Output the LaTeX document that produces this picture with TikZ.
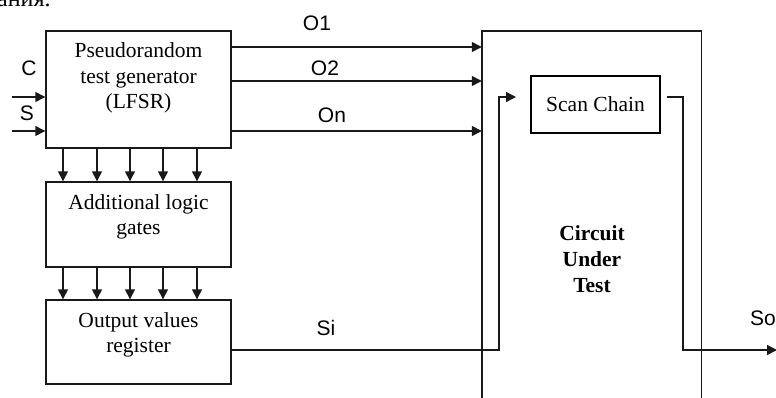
\documentclass[tikz,border=0pt]{standalone}
\usepackage{fontspec}
\setmainfont{Liberation Serif}
\newfontfamily\sansf{Liberation Sans}
\usetikzlibrary{arrows.meta}
\begin{document}
\begin{tikzpicture}[x=1pt,y=-1pt,
  wire/.style={line width=1.4pt,draw=black!90},
  arr/.style={wire,-{Triangle[length=10pt,width=10pt]}},
  blk/.style={draw=black!90,line width=1.4pt,minimum width=185pt,inner sep=0pt},
  btxt/.style={font=\fontsize{21.5}{25.5}\selectfont,align=center,inner sep=0pt},
  lbl/.style={font=\sansf\fontsize{21}{24}\selectfont,inner sep=0pt}]
\useasboundingbox (0,0) rectangle (776,397);
% clipped text at the top edge
\node[anchor=base west,inner sep=0pt,font=\fontsize{24}{28}\selectfont] (topt) at (-3,6) {ания.};
% blocks
\node[blk,minimum height=117pt] (lfsr) at (138.5,89.5) {};
\node[blk,minimum height=85pt] (add) at (138.5,224.5) {};
\node[blk,minimum height=84pt] (outr) at (138.5,342) {};
\node[btxt] (lfsrt) at (138.5,78) {Pseudorandom\\test generator\\(LFSR)};
\node[btxt] (addt) at (138.5,217) {Additional logic\\gates};
\node[btxt] (outt) at (138.5,335) {Output values\\register};
% circuit under test (open at the bottom)
\node[minimum width=219pt,minimum height=380pt,inner sep=0pt] (cut) at (591.5,221) {};
\draw[wire] (cut.south west) -- (cut.north west) -- (cut.north east) -- (cut.south east);
\node[btxt,font=\bfseries\fontsize{21.5}{26}\selectfont] (cutt) at (592,259) {Circuit\\Under\\Test};
\node[draw=black,line width=2.8pt,minimum width=129pt,minimum height=57pt,inner sep=0pt,
  font=\fontsize{21.5}{25}\selectfont] (scan) at (595.5,104.5) {Scan Chain};
% inputs C and S
\coordinate (cin) at (12,97);
\coordinate (sin) at (12,131);
\draw[arr] (cin) -- (lfsr.west |- cin);
\draw[arr] (sin) -- (lfsr.west |- sin);
\node[lbl] (cl) at (29,68) {C};
\node[lbl] (sl) at (27,113) {S};
% outputs O1, O2, On
\foreach \yy in {47,81,131}{
  \draw[arr] (lfsr.east |- 0,\yy) -- (cut.west |- 0,\yy);
}
\node[lbl] (o1) at (317,23) {O1};
\node[lbl] (o2) at (325,68) {O2};
\node[lbl] (on) at (332,115) {On};
% vertical bus arrows
\foreach \xx in {63,97,130,163,197}{
  \draw[arr] (lfsr.south -| \xx,0) -- (add.north -| \xx,0);
  \draw[arr] (add.south -| \xx,0) -- (outr.north -| \xx,0);
}
% Si path into scan chain
\coordinate (scin) at (516,97);
\draw[arr] (outr.east |- 0,350) -| (499,97) -- (scin);
\node[lbl] (si) at (326,328) {Si};
% scan chain output
\coordinate (scout) at (667,97);
\coordinate (soend) at (777,350);
\draw[arr] (scout) -- (683,97) -- (683,350) -- (soend);
\node[lbl,anchor=west] (so) at (750,318) {So};
\end{tikzpicture}
\end{document}
